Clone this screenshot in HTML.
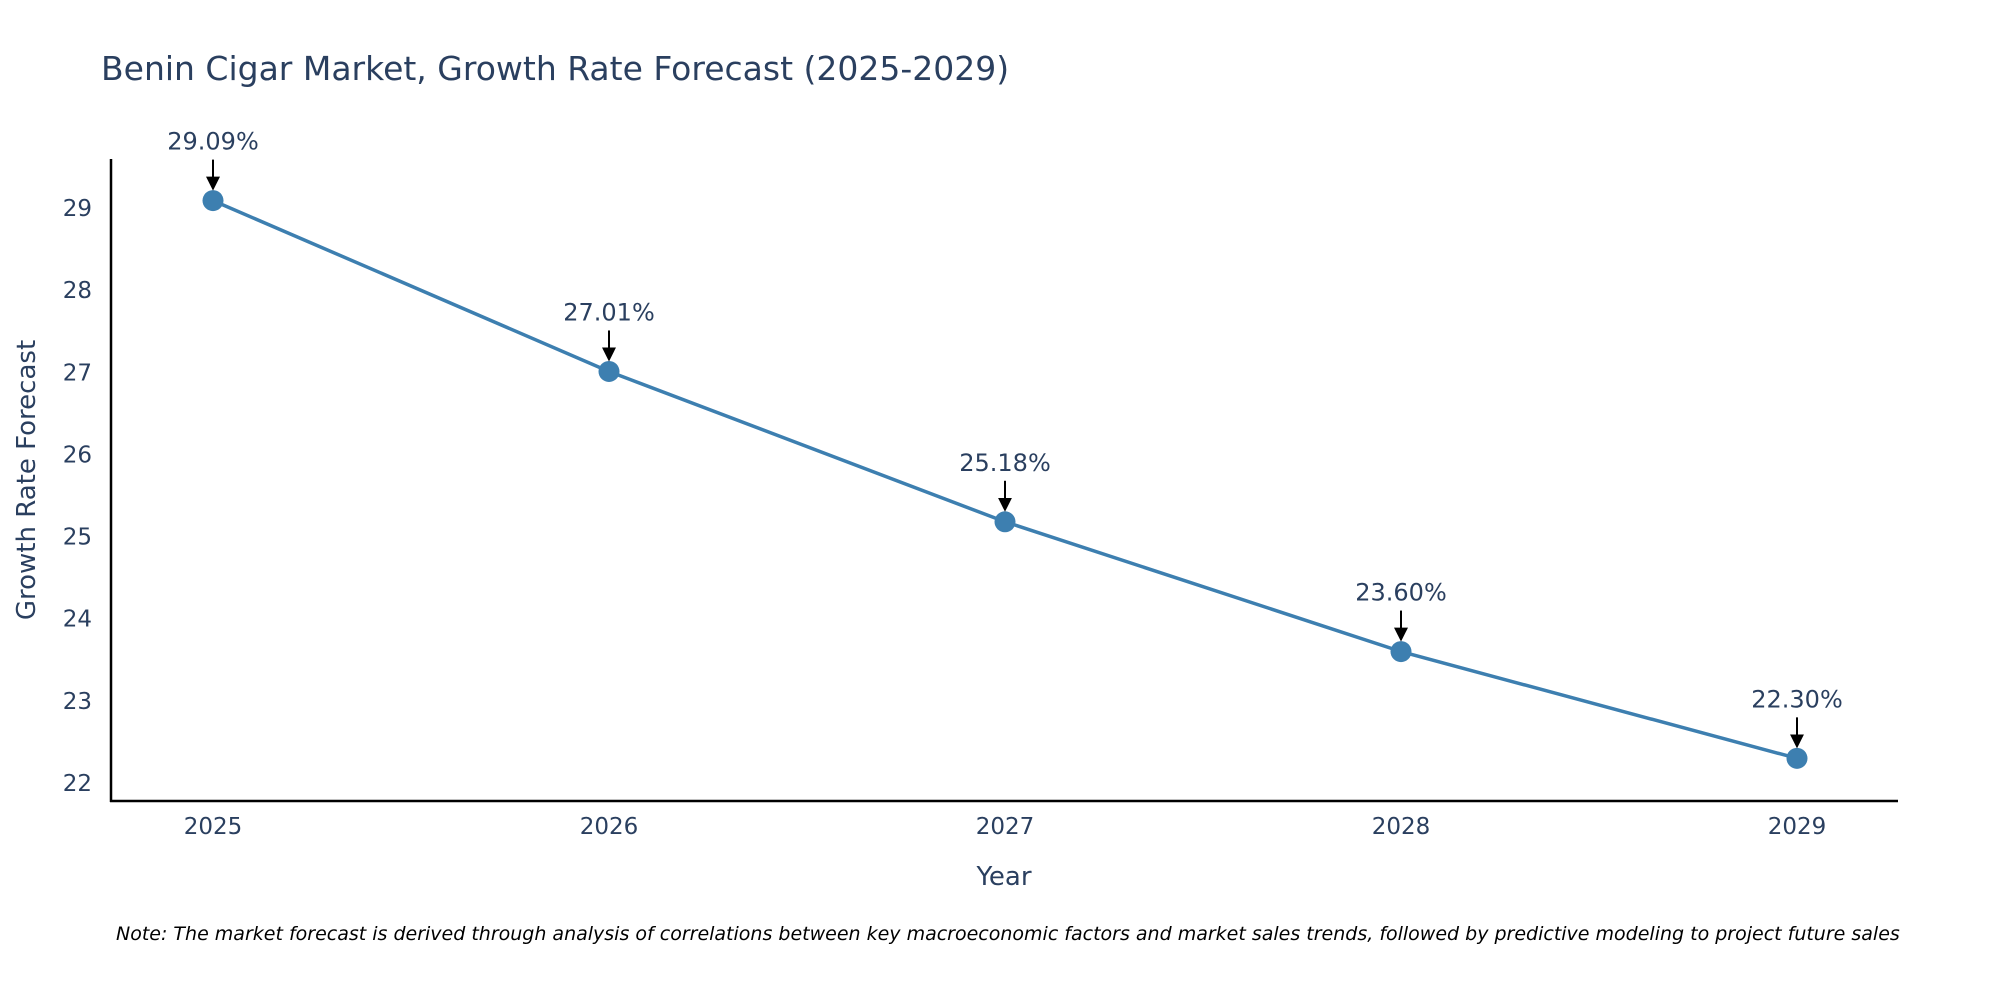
<!DOCTYPE html>
<html><head><meta charset="utf-8"><style>
html,body{margin:0;padding:0;background:#fff;}
svg text{font-family:"DejaVu Sans","Liberation Sans",sans-serif;}
</style></head><body>
<svg id="chart" width="2000" height="1000" viewBox="0 0 2000 1000" xmlns="http://www.w3.org/2000/svg">
<defs><marker id="ah" markerWidth="7" markerHeight="7" refX="6" refY="3.5" orient="auto" markerUnits="strokeWidth"><path d="M0,0 L7,3.5 L0,7 z" fill="#000"/></marker></defs>
<text x="101" y="80" font-size="33" fill="#2a3f5f">Benin Cigar Market, Growth Rate Forecast (2025-2029)</text>
<g id="yticks"></g><g id="xticks"></g>
<line x1="111" y1="159" x2="111" y2="802" stroke="#000" stroke-width="2.5"/>
<line x1="110" y1="801" x2="1898" y2="801" stroke="#000" stroke-width="2.5"/>
<g id="series"></g><g id="annots"></g>
<text x="1004" y="885" font-size="26" fill="#2a3f5f" text-anchor="middle">Year</text>
<text transform="translate(35,480) rotate(-90)" font-size="26" fill="#2a3f5f" text-anchor="middle">Growth Rate Forecast</text>
<text x="116" y="940" font-size="19" font-style="italic" fill="#000">Note: The market forecast is derived through analysis of correlations between key macroeconomic factors and market sales trends, followed by predictive modeling to project future sales</text>
</svg>
<script>
const years = ["2025","2026","2027","2028","2029"];
const values = [29.09, 27.01, 25.18, 23.60, 22.30];
const labels = ["29.09%","27.01%","25.18%","23.60%","22.30%"];
const yTicks = [22,23,24,25,26,27,28,29];
const NS="http://www.w3.org/2000/svg";
function xPos(i){return 213+i*(1797-213)/(years.length-1);}
function yPos(v){return 783-(v-22)*(783-208)/7;}
function mk(t,a,p){const e=document.createElementNS(NS,t);for(const k in a)e.setAttribute(k,a[k]);p.appendChild(e);return e;}
const yt=document.getElementById('yticks'),xt=document.getElementById('xticks'),se=document.getElementById('series'),an=document.getElementById('annots');
yTicks.forEach(v=>{const t=mk('text',{x:92,y:yPos(v)+8,'font-size':23,fill:'#2a3f5f','text-anchor':'end'},yt);t.textContent=v;

});
years.forEach((y,i)=>{const t=mk('text',{x:xPos(i),y:834,'font-size':23,fill:'#2a3f5f','text-anchor':'middle'},xt);t.textContent=y;

});
const pl=mk('polyline',{points:values.map((v,i)=>xPos(i)+','+yPos(v)).join(' '),fill:'none',stroke:'#3d7fb0','stroke-width':3.5},se);


values.forEach((v,i)=>{const c=mk('circle',{cx:xPos(i),cy:yPos(v),r:10.5,fill:'#3d7fb0'},se);


const x=xPos(i),y=yPos(v);
const l=mk('line',{x1:x,y1:y-41,x2:x,y2:y-12,stroke:'#000','stroke-width':2,'marker-end':'url(#ah)'},an);


const t=mk('text',{x:x,y:y-51,'font-size':24,fill:'#2a3f5f','text-anchor':'middle'},an);t.textContent=labels[i];

});
</script>
</body></html>
